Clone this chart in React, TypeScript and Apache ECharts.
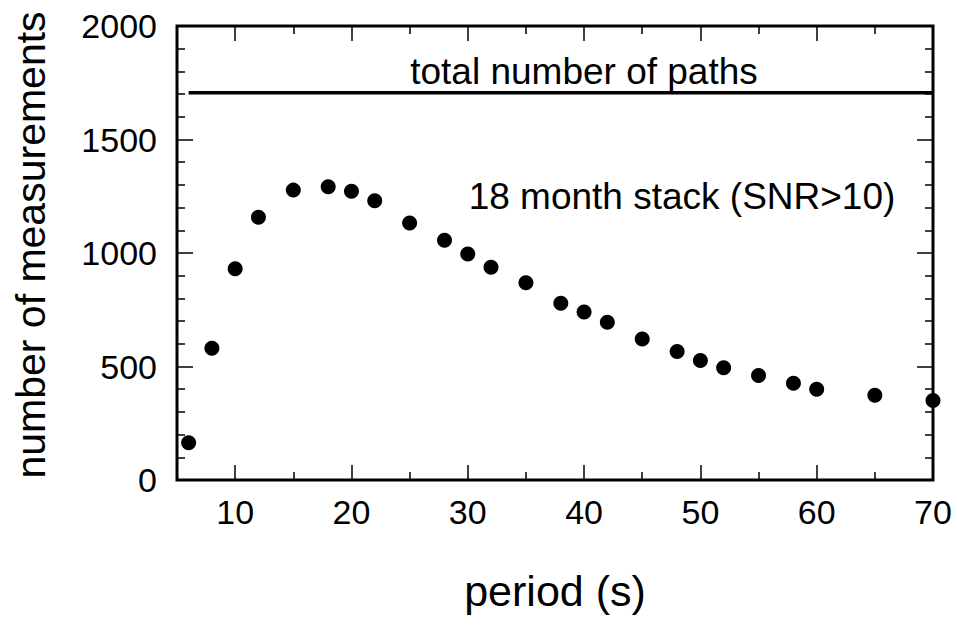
import React, { useEffect, useRef } from "react";
import * as echarts from "echarts";

const periods = [6, 8, 10, 12, 15, 18, 20, 22, 25, 28, 30, 32, 35, 38, 40, 42, 45, 48, 50, 52, 55, 58, 60, 65, 70];
const counts = [164, 580, 931, 1157, 1277, 1292, 1272, 1230, 1132, 1056, 996, 937, 869, 779, 740, 695, 621, 566, 526, 495, 460, 426, 400, 373, 350];
const totalPathsX = [6, 70];
const totalPaths = 1706;
const xMajorTicks = [10, 20, 30, 40, 50, 60, 70];
const xMinorTicks = [15, 25, 35, 45, 55, 65];
const yTickLabels = [0, 500, 1000, 1500, 2000];

const FONT = "Liberation Sans";

export default function App() {
  const ref = useRef<HTMLDivElement>(null);
  useEffect(() => {
    if (!ref.current) return;
    const chart = echarts.init(ref.current, null, { renderer: "svg" });
    const baseX = {
      type: "value",
      min: 5,
      max: 70,
      interval: 5,
      splitLine: { show: false },
      axisLine: { show: false },
    };
    const baseY = {
      type: "value",
      min: 0,
      max: 2000,
      interval: 500,
      splitLine: { show: false },
      axisLine: { show: false },
    };
    chart.setOption({
      animation: false,
      backgroundColor: "#fff",
      grid: {
        left: 177,
        top: 26,
        right: 24,
        bottom: 145,
        show: true,
        borderColor: "#000",
        borderWidth: 3,
      },
      xAxis: [
        {
          ...baseX,
          position: "bottom",
          name: "period (s)",
          nameLocation: "middle",
          nameGap: 89,
          nameTextStyle: { fontFamily: FONT, fontSize: 43, color: "#000" },
          axisTick: { show: true, inside: true, length: 15, customValues: xMajorTicks, lineStyle: { color: "#000", width: 1.5 } },
          axisLabel: { show: true, customValues: xMajorTicks, margin: 15, fontFamily: FONT, fontSize: 34, color: "#000", formatter: (v: number) => String(v) },
        },
        {
          ...baseX,
          position: "bottom",
          axisTick: { show: true, inside: true, length: 8, customValues: xMinorTicks, lineStyle: { color: "#000", width: 1.5 } },
          axisLabel: { show: false },
        },
        {
          ...baseX,
          position: "top",
          axisTick: { show: true, inside: true, length: 15, customValues: xMajorTicks, lineStyle: { color: "#000", width: 1.5 } },
          axisLabel: { show: false },
        },
        {
          ...baseX,
          position: "top",
          axisTick: { show: true, inside: true, length: 8, customValues: xMinorTicks, lineStyle: { color: "#000", width: 1.5 } },
          axisLabel: { show: false },
        },
      ],
      yAxis: [
        {
          ...baseY,
          position: "left",
          name: "number of measurements",
          nameLocation: "middle",
          nameRotate: 90,
          nameGap: 126,
          nameTextStyle: { fontFamily: FONT, fontSize: 41, color: "#000", padding: [0, 0, 0, 16] },
          axisTick: { show: true, inside: true, length: 16, lineStyle: { color: "#000", width: 1.5 } },
          minorTick: { show: true, splitNumber: 5, length: 8, lineStyle: { color: "#000", width: 1.5 } },
          axisLabel: { show: true, customValues: yTickLabels, margin: 20, fontFamily: FONT, fontSize: 34, color: "#000", formatter: (v: number) => String(v) },
        },
        {
          ...baseY,
          position: "right",
          axisTick: { show: true, inside: true, length: 16, lineStyle: { color: "#000", width: 1.5 } },
          minorTick: { show: true, splitNumber: 5, length: 8, lineStyle: { color: "#000", width: 1.5 } },
          axisLabel: { show: false },
        },
      ],
      series: [
        {
          type: "line",
          xAxisIndex: 0,
          yAxisIndex: 0,
          data: totalPathsX.map((x) => [x, totalPaths]),
          showSymbol: false,
          symbol: "none",
          lineStyle: { color: "#000", width: 3.5 },
          silent: true,
        },
        {
          type: "scatter",
          xAxisIndex: 0,
          yAxisIndex: 0,
          data: periods.map((p, i) => [p, counts[i]]),
          symbol: "circle",
          symbolSize: 15,
          itemStyle: { color: "#000", opacity: 1 },
          clip: false,
        },
      ],
      graphic: [
        {
          type: "text",
          x: 584,
          y: 71,
          style: { text: "total number of paths", fontFamily: FONT, fontSize: 37, fill: "#000", align: "center", verticalAlign: "middle" },
        },
        {
          type: "text",
          x: 682,
          y: 196,
          style: { text: "18 month stack (SNR>10)", fontFamily: FONT, fontSize: 37, fill: "#000", align: "center", verticalAlign: "middle" },
        },
      ],
    });
    return () => chart.dispose();
  }, []);
  return <div ref={ref} style={{ width: 957, height: 625, position: "absolute", left: 0, top: 0 }} />;
}
